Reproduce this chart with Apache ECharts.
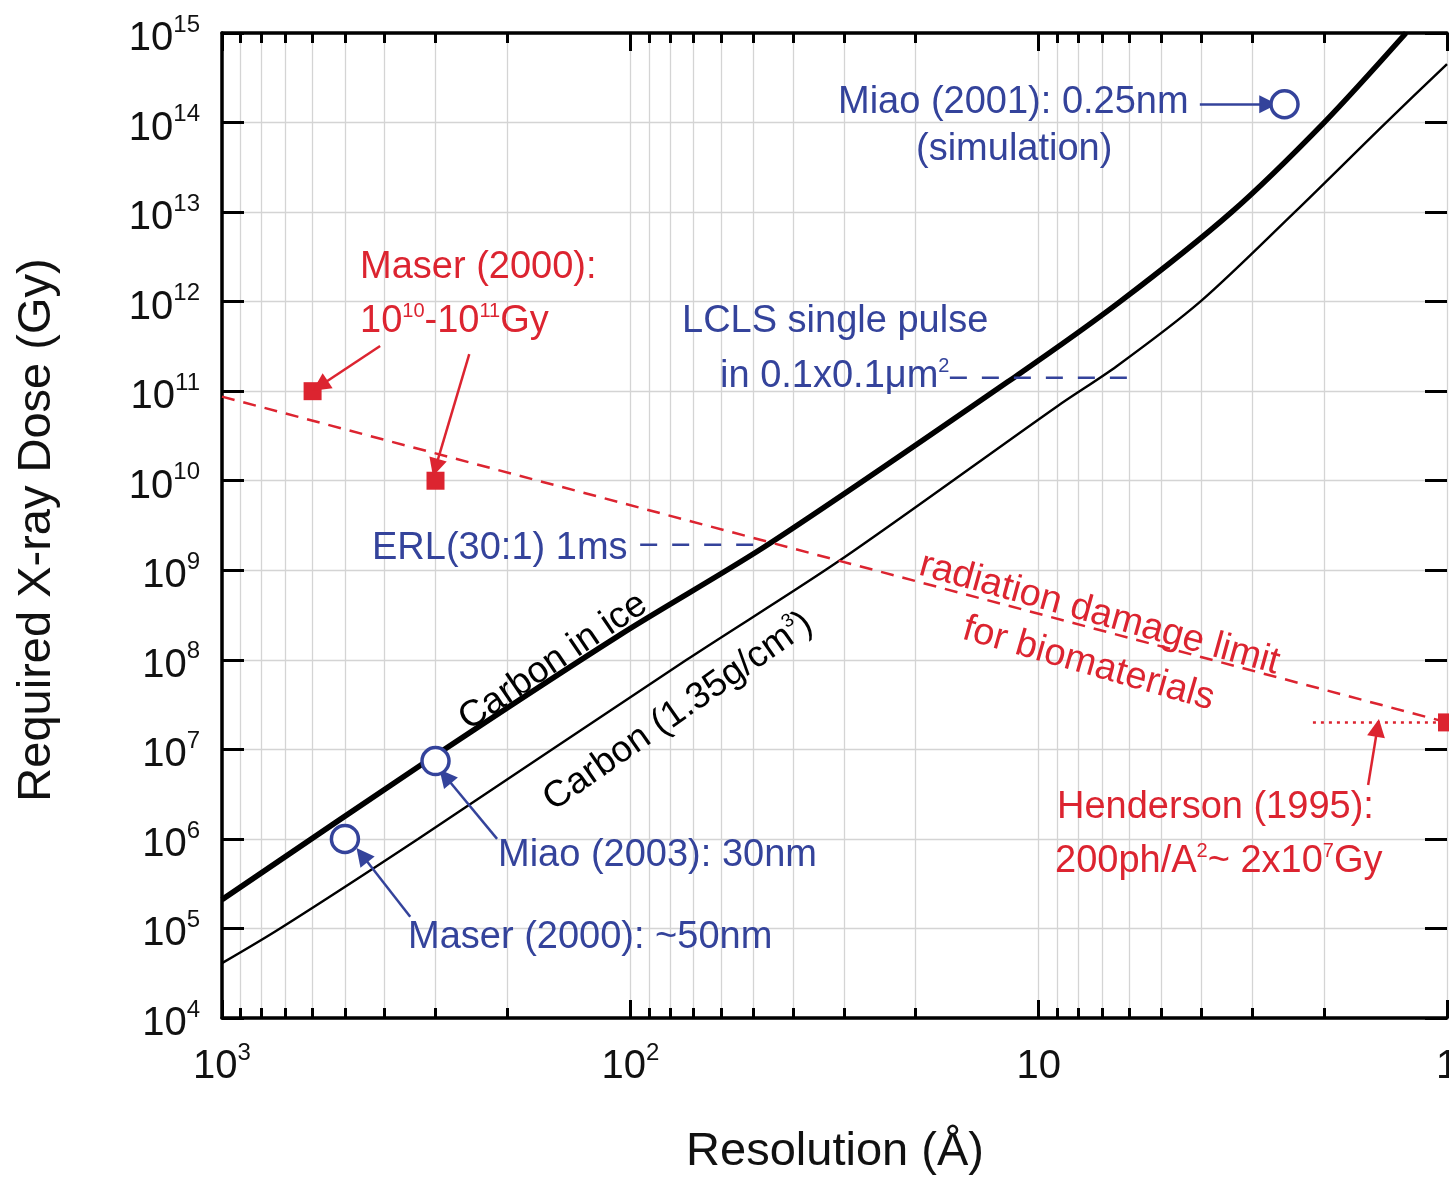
<!DOCTYPE html>
<html><head><meta charset="utf-8">
<script src="https://cdn.jsdelivr.net/npm/echarts@6/dist/echarts.min.js"></script>
<style>html,body{margin:0;padding:0;background:#fff}#c{width:1449px;height:1180px}</style>
</head><body><div id="c"></div>
<script>
// ---------- data (resolution in Å, dose in Gy) ----------
const carbonIceRes  = [1000, 315, 106, 45.5, 11.3, 6.32, 3.37, 2.0, 1.26];
const carbonIceDose = [2.1e5, 7.4e6, 1.9e8, 2.0e9, 1.5e11, 1.0e12, 1.0e13, 1.0e14, 1.0e15];
const carbonRes  = [1000, 721, 331, 72.8, 30.6, 9.0, 6.44, 4.02, 2.36, 1.41, 1];
const carbonDose = [4.1e4, 1.0e5, 1.0e6, 1.0e8, 1.3e9, 6.8e10, 1.9e11, 1.0e12, 1.0e13, 1.0e14, 4.5e14];
const damageRes  = [1000, 1];
const damageDose = [8.7e10, 2.0e7];
const maserSqRes  = [600, 300];
const maserSqDose = [1e11, 1e10];
const hendersonRes  = [1];
const hendersonDose = [2e7];
const hendersonLineRes  = [2.13, 1];
const hendersonLineDose = [2e7, 2e7];
const circleRes  = [500, 300, 2.5];
const circleDose = [1e6, 7.4e6, 1.6e14];
const lclsRes  = [16.5, 6.0];
const lclsDose = [1.41e11, 1.41e11];
const erlRes  = [94.6, 46];
const erlDose = [1.93e9, 1.93e9];
const xTickValues = [1, 10, 100, 1000];
const xMinorValues = [2,3,4,5,6,7,8,9,20,30,40,50,60,70,80,90,200,300,400,500,600,700,800,900];
const yTickValues = [1e4,1e5,1e6,1e7,1e8,1e9,1e10,1e11,1e12,1e13,1e14,1e15];
// arrows: [fromRes, fromDose, toRes, toDose]
const arrowMaser1 = [410, 3.2e11, 575, 1.15e11];
const arrowMaser2 = [248, 2.6e11, 300, 1.4e10];
const arrowMiao01 = [4.03, 1.6e14, 2.74, 1.6e14];
const arrowMiao03 = [212, 1.0e6, 284, 5.0e6];
const arrowMaser50 = [346, 1.35e5, 454, 6.6e5];
const arrowHenderson = [1.56, 4.0e6, 1.48, 1.74e7];

// ---------- styling ----------
const FONT = 'Liberation Sans, Arial, Helvetica, sans-serif';
const BLUE = '#34439b';
const RED = '#dc2430';
const GRID = '#d4d4d4';
const zip = (a, b) => a.map((v, i) => [v, b[i]]);

function expLabel(v) {
  const e = Math.round(Math.log10(v));
  if (e === 0) return '{b|1}';
  if (e === 1) return '{b|10}';
  return '{b|10}{s|' + e + '}';
}
const labelRich = {
  b: { fontSize: 40, lineHeight: 40, padding: [12, 0, 0, 0], fontFamily: FONT, color: '#111' },
  s: { fontSize: 24, lineHeight: 24, verticalAlign: 'top', fontFamily: FONT, color: '#111' }
};

function xAx(pos, minor, labels, split) {
  return {
    type: 'log', inverse: true, min: 0.9999999, max: 1000.0001, position: pos,
    axisLine: { show: !minor, onZero: false, lineStyle: { color: '#000', width: 3.5 } },
    axisTick: { show: true, inside: true, length: minor ? 10 : 18,
      lineStyle: { color: '#000', width: 3 }, customValues: minor ? xMinorValues : xTickValues },
    axisLabel: labels ? { show: true, showMinLabel: true, showMaxLabel: true, customValues: xTickValues, margin: 23, formatter: expLabel, rich: labelRich } : { show: false },
    splitLine: { show: split, lineStyle: { color: GRID, width: 1.3 } }
  };
}
function yAx(pos, labels, line) {
  return {
    type: 'log', min: 0.9999999e4, max: 1.0000001e15, position: pos,
    axisLine: { show: line, onZero: false, lineStyle: { color: '#000', width: 3.5 } },
    axisTick: { show: true, inside: true, length: 22, lineStyle: { color: '#000', width: 3 }, customValues: yTickValues },
    axisLabel: labels ? { show: true, showMinLabel: true, showMaxLabel: true, customValues: yTickValues, margin: 22, formatter: expLabel, rich: labelRich } : { show: false },
    splitLine: { show: labels, lineStyle: { color: GRID, width: 1.3 } }
  };
}
function arrowSeries(a, color) {
  return {
    type: 'lines', coordinateSystem: 'cartesian2d', xAxisIndex: 0, yAxisIndex: 0, z: 6,
    symbol: ['none', 'triangle'], symbolSize: [13, 18], silent: true,
    lineStyle: { color: color, width: 2.5, opacity: 1, curveness: 0 },
    data: [{ coords: [[a[0], a[1]], [a[2], a[3]]] }]
  };
}
function txt(x, y, text, color, size, extra) {
  return Object.assign({ type: 'text', x: x, y: y, z: 20, silent: true,
    style: { text: text, fill: color, fontSize: size, fontFamily: FONT, verticalAlign: 'middle', align: 'left' } }, extra || {});
}
function richTxt(x, y, text, color, size, align, rotationDeg) {
  return { type: 'text', x: x, y: y, z: 20, silent: true, rotation: (rotationDeg || 0) * Math.PI / 180,
    style: { text: text, fill: color, fontFamily: FONT, fontSize: size, align: align, verticalAlign: 'middle',
      rich: {
        t: { fontSize: size, lineHeight: size, padding: [4, 0, 0, 0], fontFamily: FONT, fill: color },
        u: { fontSize: Math.round(size * 0.52), lineHeight: Math.round(size * 0.52), verticalAlign: 'top', fontFamily: FONT, fill: color }
      } } };
}

const chart = echarts.init(document.getElementById('c'), null, { renderer: 'canvas' });
chart.setOption({
  animation: false,
  backgroundColor: '#fff',
  grid: { left: 222, right: 2, top: 33, bottom: 162, containLabel: false, outerBoundsMode: 'none' },
  xAxis: [ xAx('bottom', false, true, true), xAx('bottom', true, false, true),
           xAx('top', false, false, false), xAx('top', true, false, false) ],
  yAxis: [ yAx('left', true, true), yAx('right', false, false) ],
  series: [
    { type: 'line', name: 'Carbon in ice', data: zip(carbonIceRes, carbonIceDose), symbol: 'none', smooth: 0.3, z: 3,
      lineStyle: { color: '#000', width: 5.5 } },
    { type: 'line', name: 'Carbon', data: zip(carbonRes, carbonDose), symbol: 'none', smooth: 0.3, z: 3,
      lineStyle: { color: '#000', width: 2.4 } },
    { type: 'line', name: 'damage', data: zip(damageRes, damageDose), symbol: 'none', z: 4,
      lineStyle: { color: RED, width: 2.5, type: [13, 9] } },
    { type: 'line', name: 'LCLS', data: zip(lclsRes, lclsDose), symbol: 'none', z: 4,
      lineStyle: { color: BLUE, width: 2.5, type: [17, 15] } },
    { type: 'line', name: 'ERL', data: zip(erlRes, erlDose), symbol: 'none', z: 4,
      lineStyle: { color: BLUE, width: 2.5, type: [17, 15] } },
    { type: 'line', name: 'Henderson line', data: zip(hendersonLineRes, hendersonLineDose), symbol: 'none', z: 4,
      lineStyle: { color: RED, width: 2.5, type: [3, 5] } },
    { type: 'scatter', name: 'Maser squares', data: zip(maserSqRes, maserSqDose), symbol: 'rect', symbolSize: 18, z: 5,
      itemStyle: { color: RED, opacity: 1 } },
    { type: 'scatter', name: 'Henderson', data: zip(hendersonRes, hendersonDose), symbol: 'rect', symbolSize: 18, z: 5, clip: false,
      itemStyle: { color: RED, opacity: 1 } },
    { type: 'scatter', name: 'circles', data: zip(circleRes, circleDose), symbol: 'circle', symbolSize: 27, z: 7,
      itemStyle: { color: '#fff', borderColor: BLUE, borderWidth: 3.5, opacity: 1 } },
    arrowSeries(arrowMaser1, RED), arrowSeries(arrowMaser2, RED),
    arrowSeries(arrowMiao01, BLUE), arrowSeries(arrowMiao03, BLUE), arrowSeries(arrowMaser50, BLUE),
    arrowSeries(arrowHenderson, RED)
  ],
  graphic: [
    txt(838, 103, 'Miao (2001): 0.25nm', BLUE, 38),
    txt(916, 150, '(simulation)', BLUE, 38),
    txt(360, 268, 'Maser (2000):', RED, 38),
    richTxt(360, 320, '{t|10}{u|10}{t|-10}{u|11}{t|Gy}', RED, 38, 'left', 0),
    txt(682, 322, 'LCLS single pulse', BLUE, 38),
    richTxt(720, 375, '{t|in 0.1x0.1μm}{u|2}', BLUE, 38, 'left', 0),
    txt(372, 549, 'ERL(30:1) 1ms', BLUE, 38),
    txt(498, 856, 'Miao (2003): 30nm', BLUE, 38),
    txt(408, 938, 'Maser (2000): ~50nm', BLUE, 38),
    txt(1057, 808, 'Henderson (1995):', RED, 38),
    richTxt(1055, 860, '{t|200ph/A}{u|2}{t|~ 2x10}{u|7}{t|Gy}', RED, 38, 'left', 0),
    richTxt(552, 660, '{t|Carbon in ice}', '#000', 37, 'center', 34),
    richTxt(677, 710, '{t|Carbon (1.35g/cm}{u|3}{t|)}', '#000', 37, 'center', 35),
    richTxt(1100, 612, '{t|radiation damage limit}', RED, 38, 'center', -15.5),
    richTxt(1089, 662, '{t|for biomaterials}', RED, 38, 'center', -16),
    txt(37, 530, 'Required X-ray Dose (Gy)', '#111', 47, { rotation: Math.PI / 2,
      style: { text: 'Required X-ray Dose (Gy)', fill: '#111', fontSize: 47, fontFamily: FONT, align: 'center', verticalAlign: 'middle' } }),
    txt(835, 1152, 'Resolution (Å)', '#111', 47, {
      style: { text: 'Resolution (Å)', fill: '#111', fontSize: 47, fontFamily: FONT, align: 'center', verticalAlign: 'middle' } })
  ]
});
</script>
</body></html>
